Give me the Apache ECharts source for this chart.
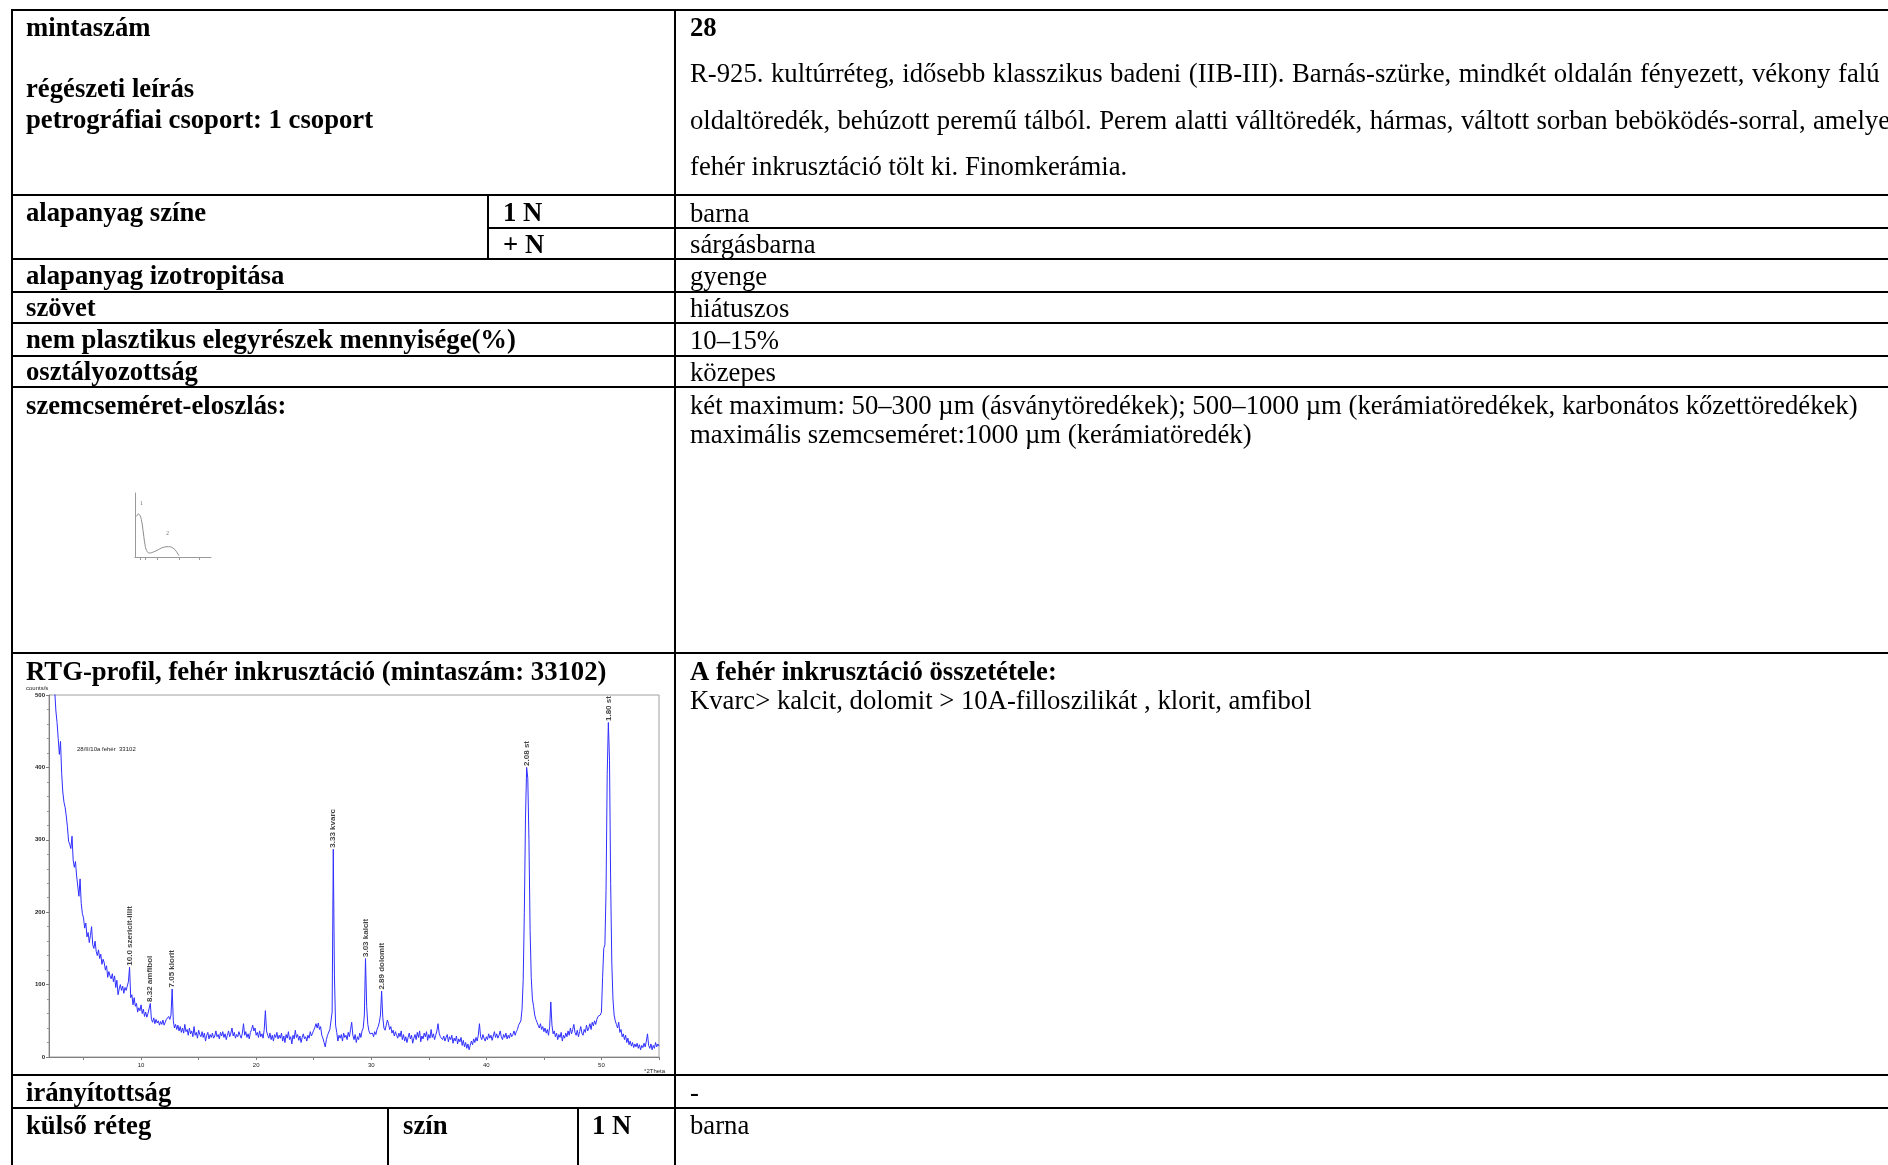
<!DOCTYPE html>
<html><head><meta charset="utf-8">
<script src="https://cdn.jsdelivr.net/npm/echarts@6/dist/echarts.min.js"></script>
<style>html,body{margin:0;padding:0;background:#fff}#c{width:1888px;height:1165px}</style>
</head><body><div id="c"></div>
<script>
// ---------- XRD profile (counts/s vs °2Theta), sampled every 0.1° from 2.5° ----------
const thetaStart = 2.5, thetaStep = 0.1;
const counts = [
505,478,462,440,418,436,392,366,352,345,
333,318,298,294,288,305,272,262,270,250,
252,222,246,212,198,192,178,185,166,172,
158,168,180,155,150,160,146,140,148,136,
142,128,135,130,120,126,110,118,112,108,
115,104,112,96,106,86,94,100,92,98,
88,96,92,98,104,124,82,86,72,82,
70,74,62,68,64,72,60,66,56,62,
55,60,58,74,52,48,54,46,52,47,
50,44,49,45,51,44,48,52,50,56,
52,58,94,50,40,45,38,44,36,42,
34,40,33,45,35,38,30,40,32,36,
28,42,30,34,26,37,31,28,35,27,
33,22,30,34,25,31,27,33,26,29,
36,28,31,25,34,29,35,27,32,24,
30,36,28,33,40,29,34,26,31,28,
35,30,26,33,46,30,35,27,32,25,
34,38,44,36,40,30,34,27,36,28,
32,26,38,64,36,30,26,33,24,30,
22,31,27,34,25,30,26,33,22,29,
20,31,26,35,24,28,18,30,25,37,
27,31,23,29,20,27,32,25,28,22,
30,26,35,29,33,37,41,46,40,47,
38,42,30,26,20,14,24,30,28,38,
40,62,287,112,44,34,22,30,26,31,
22,33,27,30,24,34,28,38,48,30,
24,31,20,28,24,33,27,36,40,58,
136,70,45,36,32,30,33,28,35,31,
38,42,48,58,91,55,40,37,44,51,
46,38,42,33,37,29,35,30,26,33,
28,36,24,31,22,28,20,27,33,25,
30,19,26,31,24,34,27,36,21,29,
25,33,28,35,23,31,26,38,27,32,
24,30,36,46,33,28,30,24,29,22,
27,31,21,28,24,30,19,26,22,29,
18,25,21,27,16,23,14,20,12,18,
10,16,22,17,25,20,27,22,30,46,
28,24,31,26,22,28,24,32,26,30,
23,29,35,27,32,26,30,36,28,24,
31,27,33,25,30,26,33,28,31,36,
30,35,38,44,42,50,66,106,200,330,
400,385,300,175,110,80,70,58,52,48,
44,40,46,38,42,35,40,33,38,30,
42,76,44,32,36,28,33,24,31,27,
34,22,30,26,33,28,36,30,40,32,
38,45,34,30,37,28,35,42,33,30,
38,34,44,36,40,46,38,48,43,50,
45,52,56,55,58,62,110,150,155,230,
390,462,410,240,130,80,58,50,45,40,
48,34,38,28,32,24,30,20,26,17,
22,15,20,13,18,14,19,12,17,10,
16,13,19,14,22,32,16,12,18,10,
16,12,20,14,18,15
];
const peakTheta  = [9.0, 10.8, 12.7, 26.7, 29.5, 30.9, 43.5, 50.6];
const peakCounts = [124, 74, 94, 287, 136, 91, 400, 462];
const peakLabels = ['10.0 szericit-illit','8.32 amfibol','7.05 klorit','3.33 kvarc','3.03 kalcit','2.89 dolomit','2.08 st','1.80 st'];
const xTickValues  = [5,10,15,20,25,30,35,40,45,50,55];
const xLabelValues = [10,20,30,40,50];

// ---------- grain-size distribution sketch ----------
const grainX = [2.2,4.4,6.6,8.8,11.0,13.2,15.4,18.9,24.2,30.8,37.4,44.1,49.8,54.2,57.7];
const grainY = [63.5,67.2,64.6,55.7,37.5,19.3,9.9,6.3,7.8,11.5,15.1,16.1,14.1,8.9,2.1];
const grainTicks = [7.5,14.1,29.5,57.7,85];
const grainMarks = ['1','2'];

// ---------- table texts ----------
const descLine1 = ['R-925.','kultúrréteg,','idősebb','klasszikus','badeni','(IIB-III).','Barnás-szürke,','mindkét','oldalán','fényezett,','vékony','falú'];
const descLine2 = ['oldaltöredék,','behúzott','peremű','tálból.','Perem','alatti','válltöredék,','hármas,','váltott','sorban','beböködés-sorral,','amelyet'];
const descLine3 = 'fehér inkrusztáció tölt ki. Finomkerámia.';

const SERIF = "'Liberation Serif','Times New Roman',serif";
const F  = "26.7px " + SERIF;
const FB = "bold 26.7px " + SERIF;
const DY = 2.5;

function T(text, x, y, font, extra){
  return {type:'text', silent:true, z:10,
    style:Object.assign({text:text, x:x, y:y + DY, font:font||F, fill:'#000',
      align:'left', verticalAlign:'middle', textAlign:'left', textVerticalAlign:'middle'}, extra||{})};
}
function L(x1,y1,x2,y2,w,c){
  return {type:'line', silent:true, z:5, shape:{x1:x1,y1:y1,x2:x2,y2:y2},
    style:{stroke:c||'#000', lineWidth:w||2}};
}
const mctx = document.createElement('canvas').getContext('2d');
function justified(words, x0, lastStart, y, font){
  mctx.font = font;
  const w = words.map(s => mctx.measureText(s).width);
  let sum = 0; for (let i=0;i<w.length-1;i++) sum += w[i];
  const gap = (lastStart - x0 - sum) / (words.length - 1);
  const out = []; let x = x0;
  words.forEach((s,i) => { out.push(T(s, x, y, font)); x += w[i] + gap; });
  return out;
}

const R = 1888;
const SM = "6px 'Liberation Sans',Arial,sans-serif";
const graphic = [
  // horizontal rules
  L(12,10,R,10), L(12,195,R,195), L(488,228,R,228), L(12,259,R,259), L(12,292,R,292),
  L(12,323,R,323), L(12,356,R,356), L(12,387,R,387), L(12,653,R,653),
  L(12,1075,R,1075), L(12,1108,R,1108),
  // vertical rules
  L(12,9,12,1165), L(675,9,675,1165), L(488,195,488,259), L(388,1108,388,1165), L(578,1108,578,1165),
  // left column labels
  T('mintaszám',26,26.5,FB),
  T('régészeti leírás',26,88,FB),
  T('petrográfiai csoport: 1 csoport',26,119,FB),
  T('alapanyag színe',26,212,FB),
  T('1 N',503,212,FB), T('+ N',503,243.5,FB),
  T('alapanyag izotropitása',26,275,FB),
  T('szövet',26,307,FB),
  T('nem plasztikus elegyrészek mennyisége(%)',26,339,FB),
  T('osztályozottság',26,371,FB),
  T('szemcseméret-eloszlás:',26,404.5,FB),
  T('RTG-profil, fehér inkrusztáció (mintaszám: 33102)',26,670.5,FB),
  T('irányítottság',26,1091.5,FB),
  T('külső réteg',26,1124.5,FB), T('szín',403,1124.5,FB), T('1 N',592,1124.5,FB),
  // right column values
  T('28',690,26.5,FB),
  ...justified(descLine1,690,1838,72,F),
  ...justified(descLine2,690,1813,119,F),
  T(descLine3,690,165,F),
  T('barna',690,212), T('sárgásbarna',690,243.5), T('gyenge',690,275), T('hiátuszos',690,307),
  T('10–15%',690,339), T('közepes',690,371),
  T('két maximum: 50–300 µm (ásványtöredékek); 500–1000 µm (kerámiatöredékek, karbonátos kőzettöredékek)',690,404.5),
  T('maximális szemcseméret:1000 µm (kerámiatöredék)',690,433.5),
  T('A fehér inkrusztáció összetétele:',690,670.5,FB),
  T('Kvarc> kalcit, dolomit > 10A-filloszilikát , klorit, amfibol',690,699.5),
  T('-',690,1091.5),
  T('barna',690,1124.5),
  // XRD small texts
  T('counts/s',26,685.5,SM,{fill:'#222'}),
  T('°2Theta',644,1068.5,SM,{fill:'#222'}),
  T('28/II/10a fehér  33102',77,746.5,SM,{fill:'#222'}),
  // grain sketch marks
  T(grainMarks[0],140,500.5,"6px 'Liberation Serif',serif",{fill:'#777'}),
  T(grainMarks[1],166,530.5,"6px 'Liberation Serif',serif",{fill:'#777'})
];

const xrdData = counts.map((c,i) => [thetaStart + i*thetaStep, c]);
const peakData = peakTheta.map((t,i) => [t, peakCounts[i]]);
const grainData = grainX.map((x,i) => [x, grainY[i]]);
const axGray = '#808080';
const small = {fontSize:6, color:'#222', fontFamily:"'Liberation Sans',Arial,sans-serif"};

const option = {
  animation:false,
  backgroundColor:'#fff',
  grid:[
    {left:49, top:695, width:610, height:362, show:true, borderColor:'#a0a0a0', borderWidth:1, backgroundColor:'transparent'},
    {left:135, top:493, width:76, height:64}
  ],
  xAxis:[
    {gridIndex:0, type:'value', min:2, max:55,
     axisLine:{lineStyle:{color:axGray, width:1}},
     axisTick:{customValues:xTickValues, length:3, lineStyle:{color:axGray}},
     axisLabel:Object.assign({customValues:xLabelValues, margin:5}, small),
     splitLine:{show:false}},
    {gridIndex:1, type:'value', min:0, max:100,
     axisLine:{lineStyle:{color:'#9a9a9a', width:1}},
     axisTick:{customValues:grainTicks, length:3, lineStyle:{color:'#9a9a9a'}},
     axisLabel:{show:false}, splitLine:{show:false}}
  ],
  yAxis:[
    {gridIndex:0, type:'value', min:0, max:500, interval:100,
     axisLine:{show:true, lineStyle:{color:axGray, width:1}},
     axisTick:{show:true, length:3, lineStyle:{color:axGray}},
     minorTick:{show:true, splitNumber:5, length:2, lineStyle:{color:'#999'}},
     axisLabel:Object.assign({margin:4, fontWeight:'bold'}, small),
     splitLine:{show:false}},
    {gridIndex:1, type:'value', min:0, max:100,
     axisLine:{show:true, lineStyle:{color:'#9a9a9a', width:1}},
     axisTick:{show:false}, axisLabel:{show:false}, splitLine:{show:false}}
  ],
  series:[
    {type:'line', xAxisIndex:0, yAxisIndex:0, data:xrdData, symbol:'none', clip:true,
     lineStyle:{color:'#2f2fff', width:1}},
    {type:'scatter', xAxisIndex:0, yAxisIndex:0, data:peakData, symbolSize:1,
     itemStyle:{color:'rgba(0,0,0,0)'},
     label:{show:true, position:'top', distance:1, rotate:90, align:'left', verticalAlign:'middle',
       formatter:p => peakLabels[p.dataIndex],
       fontSize:8, fontWeight:'bold', color:'#111', fontFamily:"'Liberation Sans',Arial,sans-serif"}},
    {type:'line', xAxisIndex:1, yAxisIndex:1, data:grainData, symbol:'none', smooth:true,
     lineStyle:{color:'#8a8a8a', width:1}}
  ],
  graphic:graphic
};
const chart = echarts.init(document.getElementById('c'), null, {renderer:'canvas'});
chart.setOption(option);
</script></body></html>
